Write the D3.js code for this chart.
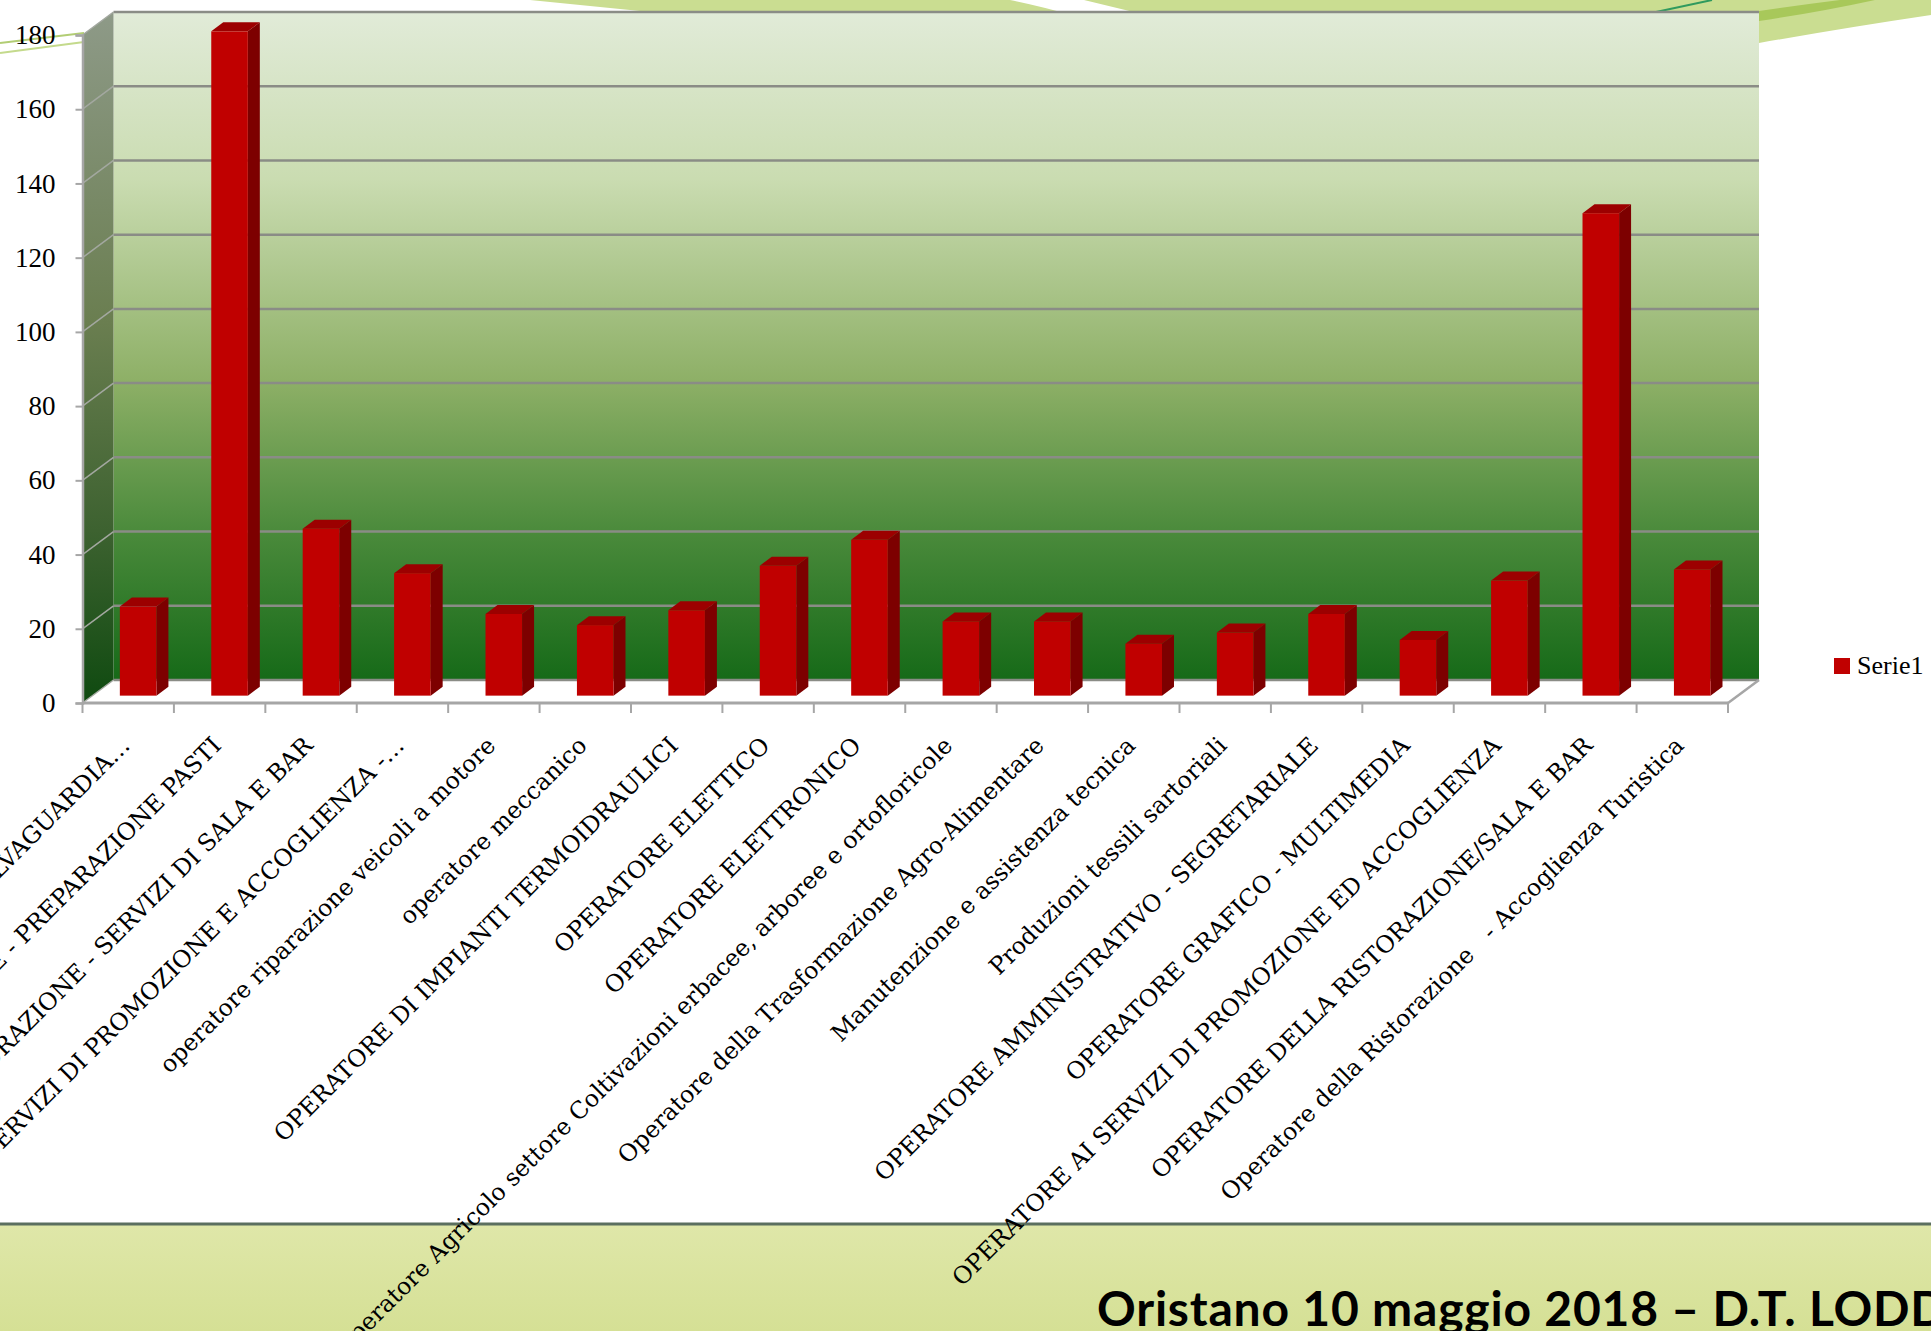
<!DOCTYPE html>
<html>
<head>
  <meta charset="UTF-8">
  <title>Serie1</title>
  <script src="https://d3js.org/d3.v7.min.js"></script>
  <style>
    body { margin: 0; background: #fff; }
    svg { display: block; }
  </style>
</head>
<body>
  <svg></svg>
<script>
  let width = 1931,
    height = 1331;

  // data
  let categories = [
    "OPERATORE AGRICOLO - SALVAGUARDIA…",
    "OPERATORE DELLA RISTORAZIONE - PREPARAZIONE PASTI",
    "OPERATORE DELLA RISTORAZIONE - SERVIZI DI SALA E BAR",
    "OPERATORE AI SERVIZI DI PROMOZIONE E ACCOGLIENZA -…",
    "operatore riparazione veicoli a motore",
    "operatore meccanico",
    "OPERATORE DI IMPIANTI TERMOIDRAULICI",
    "OPERATORE ELETTICO",
    "OPERATORE ELETTRONICO",
    "Operatore Agricolo settore Coltivazioni erbacee, arboree e ortofloricole",
    "Operatore della Trasformazione Agro-Alimentare",
    "Manutenzione e assistenza tecnica",
    "Produzioni tessili sartoriali",
    "OPERATORE AMMINISTRATIVO - SEGRETARIALE",
    "OPERATORE GRAFICO - MULTIMEDIA",
    "OPERATORE AI SERVIZI DI PROMOZIONE ED ACCOGLIENZA",
    "OPERATORE DELLA RISTORAZIONE/SALA E BAR",
    "Operatore della Ristorazione   - Accoglienza Turistica"
  ];
  let serie1 = [24, 179, 45, 33, 22, 19, 23, 35, 42, 20, 20, 14, 17, 22, 15, 31, 130, 34];
  let yTicks = [0, 20, 40, 60, 80, 100, 120, 140, 160, 180];
  let seriesName = "Serie1";
  let footer = "Oristano 10 maggio 2018 – D.T. LODDO";

  let svg = d3.select("svg")
    .attr("width", width)
    .attr("height", height);

  // 3d depth of the walls
  let DX = 31, DY = -23;

  let x = d3.scaleBand().domain(categories).range([82.5, 1728]);
  let y = d3.scaleLinear().domain([0, 180]).range([703, 35]);

  let defs = svg.append("defs");
  let g1 = defs.append("linearGradient").attr("id", "wall")
    .attr("x1", 0).attr("y1", 0).attr("x2", 0).attr("y2", 1);
  [["0%", "#e1ebd8"], ["25%", "#cadcb1"], ["55%", "#8eb067"], ["78%", "#4a8a3b"], ["100%", "#166a18"]]
    .forEach(s => g1.append("stop").attr("offset", s[0]).attr("stop-color", s[1]));
  let g2 = defs.append("linearGradient").attr("id", "side")
    .attr("x1", 0).attr("y1", 0).attr("x2", 0).attr("y2", 1);
  [["0%", "#8e9a88"], ["45%", "#6a7e50"], ["75%", "#3d6230"], ["100%", "#0f4a10"]]
    .forEach(s => g2.append("stop").attr("offset", s[0]).attr("stop-color", s[1]));
  let g3 = defs.append("linearGradient").attr("id", "band")
    .attr("x1", 0).attr("y1", 0).attr("x2", 0).attr("y2", 1);
  [["0%", "#dfe7a9"], ["100%", "#d5e095"]]
    .forEach(s => g3.append("stop").attr("offset", s[0]).attr("stop-color", s[1]));

  // slide decorations at the top
  let deco = svg.append("g");
  deco.append("path").attr("d", "M530,0 L1010,0 Q1040,6 1075,16 L690,16 Q610,8 530,0 Z").attr("fill", "#cadd91");
  deco.append("path").attr("d", "M1084,0 L1931,0 L1931,15 Q1850,27 1759,43 L1759,16 L1150,16 Z").attr("fill", "#cadd91");
  deco.append("path").attr("d", "M1759,11 Q1800,5 1840,0 L1875,0 Q1820,12 1759,21 Z").attr("fill", "#a8c85a");
  deco.append("line").attr("x1", 1656).attr("y1", 12).attr("x2", 1712).attr("y2", 0)
    .attr("stroke", "#2f9a5e").attr("stroke-width", 2);
  deco.append("line").attr("x1", 0).attr("y1", 43).attr("x2", 84).attr("y2", 33)
    .attr("stroke", "#b2cd74").attr("stroke-width", 2);
  deco.append("line").attr("x1", 0).attr("y1", 53).attr("x2", 84).attr("y2", 42)
    .attr("stroke", "#c4da8c").attr("stroke-width", 2);

  let x0 = x.range()[0], x1 = x.range()[1];

  // back wall
  svg.append("rect")
    .attr("x", x0 + DX).attr("y", y(180) + DY)
    .attr("width", x1 - x0).attr("height", y(0) - y(180))
    .attr("fill", "url(#wall)");

  // side wall
  svg.append("path")
    .attr("d", "M" + x0 + "," + y(180) + "L" + (x0 + DX) + "," + (y(180) + DY) +
      "L" + (x0 + DX) + "," + (y(0) + DY) + "L" + x0 + "," + y(0) + "Z")
    .attr("fill", "url(#side)");

  // floor
  svg.append("path")
    .attr("d", "M" + x0 + "," + y(0) + "L" + (x0 + DX) + "," + (y(0) + DY) +
      "L" + (x1 + DX) + "," + (y(0) + DY) + "L" + x1 + "," + y(0) + "Z")
    .attr("fill", "#fff");

  // gridlines
  svg.append("g").selectAll("line.grid")
    .data(yTicks)
    .enter()
    .append("line")
    .attr("x1", x0 + DX).attr("x2", x1 + DX)
    .attr("y1", d => y(d) + DY).attr("y2", d => y(d) + DY)
    .attr("stroke", "#8a8c86").attr("stroke-width", 2.5);

  svg.append("g").selectAll("line")
    .data(yTicks)
    .enter()
    .append("line")
    .attr("x1", x0).attr("x2", x0 + DX)
    .attr("y1", d => y(d)).attr("y2", d => y(d) + DY)
    .attr("stroke", "#a3a8a0").attr("stroke-width", 1.5);

  // floor right edge
  svg.append("line")
    .attr("x1", x1).attr("y1", y(0)).attr("x2", x1 + DX).attr("y2", y(0) + DY)
    .attr("stroke", "#a6a6a6").attr("stroke-width", 2.5);

  // y axis
  let yAxis = svg.append("g")
    .attr("transform", "translate(" + x0 + ",0)")
    .call(d3.axisLeft(y).tickValues(yTicks).tickSize(7).tickPadding(20));
  yAxis.select(".domain").attr("stroke", "#a6a6a6").attr("stroke-width", 2.5);
  yAxis.selectAll(".tick line").attr("stroke", "#a6a6a6").attr("stroke-width", 2);
  yAxis.selectAll(".tick text")
    .attr("fill", "#000")
    .style("font-family", "'Liberation Serif', serif")
    .style("font-size", "27px");

  // x axis line and ticks at category edges
  svg.append("line")
    .attr("x1", x0).attr("x2", x1).attr("y1", y(0)).attr("y2", y(0))
    .attr("stroke", "#a6a6a6").attr("stroke-width", 3);
  let edges = categories.map(c => x(c)).concat([x1]);
  svg.append("g").selectAll("line")
    .data(edges)
    .enter()
    .append("line")
    .attr("x1", d => d).attr("x2", d => d)
    .attr("y1", y(0)).attr("y2", y(0) + 10)
    .attr("stroke", "#a6a6a6").attr("stroke-width", 2);

  // bars (3d columns)
  let pos = 0.32;
  let bw = x.bandwidth() * 0.4;
  let bdx = 12, bdy = -9;
  let bars = svg.append("g").selectAll("g")
    .data(serie1.map((v, i) => ({ cat: categories[i], v: v })))
    .enter()
    .append("g");

  let bx = d => x(d.cat) + pos * DX + (x.bandwidth() - bw) / 2;
  let bBottom = y(0) + pos * DY;
  let bTop = d => bBottom - (y(0) - y(d.v));

  bars.append("path")
    .attr("d", d => "M" + (bx(d) + bw) + "," + bTop(d) + "L" + (bx(d) + bw + bdx) + "," + (bTop(d) + bdy) +
      "L" + (bx(d) + bw + bdx) + "," + (bBottom + bdy) + "L" + (bx(d) + bw) + "," + bBottom + "Z")
    .attr("fill", "#7d0000");
  bars.append("path")
    .attr("d", d => "M" + bx(d) + "," + bTop(d) + "L" + (bx(d) + bdx) + "," + (bTop(d) + bdy) +
      "L" + (bx(d) + bw + bdx) + "," + (bTop(d) + bdy) + "L" + (bx(d) + bw) + "," + bTop(d) + "Z")
    .attr("fill", "#9c0000");
  bars.append("rect")
    .attr("x", bx)
    .attr("y", bTop)
    .attr("width", bw)
    .attr("height", d => bBottom - bTop(d))
    .attr("fill", "#c00000");

  // footer band
  svg.append("rect")
    .attr("x", 0).attr("y", 1224).attr("width", width).attr("height", height - 1224)
    .attr("fill", "url(#band)");
  svg.append("line")
    .attr("x1", 0).attr("x2", width).attr("y1", 1224).attr("y2", 1224)
    .attr("stroke", "#5b6f5f").attr("stroke-width", 3);
  svg.append("text")
    .attr("x", 1097).attr("y", 1326)
    .style("font-family", "Lato, 'DejaVu Sans', sans-serif")
    .style("font-weight", 700)
    .style("font-size", "48px")
    .style("letter-spacing", "0.8px")
    .attr("fill", "#000")
    .text(footer);

  // category labels (drawn over the footer band)
  svg.append("g").selectAll("text")
    .data(categories)
    .enter()
    .append("text")
    .attr("transform", d => "translate(" + (x(d) + x.bandwidth() / 2 + 3) + "," + 747 + ") rotate(-45)")
    .attr("text-anchor", "end")
    .attr("xml:space", "preserve")
    .style("white-space", "pre")
    .style("font-family", "'DejaVu Serif', serif")
    .style("font-size", "23.7px")
    .attr("fill", "#000")
    .text(d => d);

  // legend
  let legend = svg.append("g").attr("transform", "translate(1834,658)");
  legend.append("rect").attr("width", 16).attr("height", 16).attr("fill", "#c00000");
  legend.append("text")
    .attr("x", 23).attr("y", 16)
    .style("font-family", "'Liberation Serif', serif")
    .style("font-size", "26px")
    .attr("fill", "#000")
    .text(seriesName);
</script>
</body>
</html>
